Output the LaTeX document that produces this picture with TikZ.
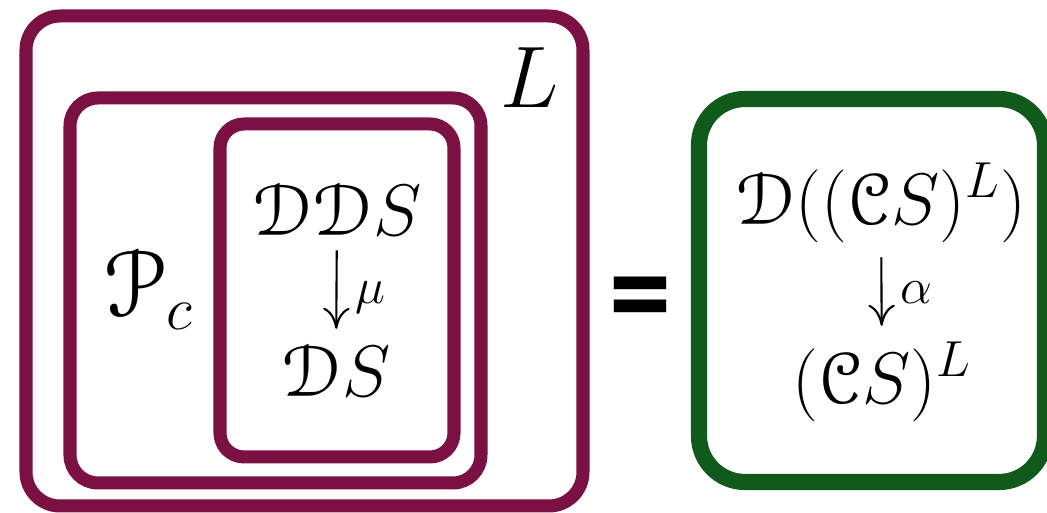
\documentclass[tikz,border=0pt]{standalone}
\usepackage{fontspec}
\usepackage[mathcal]{euscript}
\usetikzlibrary{arrows.meta}
\newfontfamily\eqfont{TeX Gyre Heros}

\definecolor{boxmaroon}{RGB}{123,17,66}
\definecolor{boxgreen}{RGB}{16,90,28}

\tikzset{
    maroonbox/.style={draw=boxmaroon, line width=3.7pt, rounded corners=#1},
    greenbox/.style={draw=boxgreen, line width=4.6pt, rounded corners=#1},
    term/.style={inner sep=1pt, font=\fontsize{20.74}{25}\selectfont},
    bigterm/.style={inner sep=1pt, font=\fontsize{27}{32}\selectfont},
    maplbl/.style={inner sep=1pt, font=\fontsize{14.4}{17}\selectfont},
    maparrow/.style={line width=0.6pt, shorten <=3pt, shorten >=3.5pt,
        -{To[length=6pt,width=7.5pt]}},
    eqsign/.style={inner sep=0pt, font=\eqfont\bfseries\fontsize{30}{30}\selectfont,
        xscale=1.07, yscale=1.2},
}

\begin{document}
\begin{tikzpicture}[x=0.01cm, y=-0.01cm]
    \useasboundingbox (0,0) rectangle (1047,513);

    % nested boxes
    \draw [maroonbox=3.4mm]
        (26,16) rectangle (583,506)
        ;
    \draw [maroonbox=2.8mm]
        (70,98) rectangle (481,483)
        ;
    \draw [maroonbox=2.4mm]
        (220,124) rectangle (454,457)
        ;

    \node [bigterm] (ell) at (530,78) {$L$};
    \node [bigterm] (pc) at (149,290) {$\mathcal{P}_c$};

    \node [term] (dds) at (337,210) {$\mathcal{D}\mathcal{D}S$};
    \node [term] (ds) at (336,371) {$\mathcal{D}S$};

    \draw [maparrow]
        (dds)
        --
        (ds)
            node [maplbl, midway, right, xshift=4pt, yshift=-2pt] {$\mu$}
        ;

    \node [eqsign] (eq) at (640,302) {=};

    % right-hand side
    \draw [greenbox=4.6mm]
        (699,99) rectangle (1045,482)
        ;

    \node [term] (dcs) at (881,203) {$\mathcal{D}((\mathcal{C}S)^L)$};
    \node [term] (cs) at (882,382) {$(\mathcal{C}S)^L$};

    \draw [maparrow]
        (dcs)
        --
        (cs)
            node [maplbl, midway, right, xshift=4pt, yshift=0pt] {$\alpha$}
        ;
\end{tikzpicture}
\end{document}
